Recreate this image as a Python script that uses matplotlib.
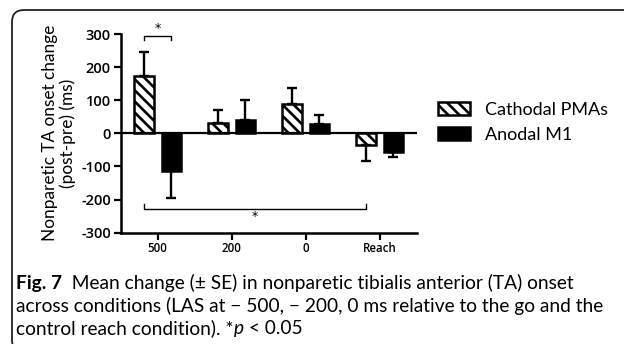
import matplotlib
matplotlib.use("Agg")
import matplotlib.pyplot as plt
import numpy as np
from matplotlib.patches import FancyBboxPatch, Patch
from matplotlib.transforms import IdentityTransform

# ---- data ----
conditions = ["500", "200", "0", "Reach"]
cathodal_mean = [173, 32, 88, -36]
cathodal_se = [73, 38, 48, 48]
anodal_mean = [-113, 40, 28, -55]
anodal_se = [82, 60, 27, 16]
series_names = ["Cathodal PMAs", "Anodal M1"]
yticks = [-300, -200, -100, 0, 100, 200, 300]

plt.rcParams["hatch.linewidth"] = 1.9
W, H = 624, 344
fig = plt.figure(figsize=(W / 100, H / 100), dpi=100)
ax = fig.add_axes([120.7 / W, 1 - 232.7 / H, 296 / W, 198.7 / H])

x = np.arange(len(conditions))
off, bw = 0.185, 0.26
ax.bar(x - off, cathodal_mean, bw, color="white", edgecolor="black",
       linewidth=1.8, hatch="\\\\\\", label=series_names[0], zorder=2)
ax.bar(x + off, anodal_mean, bw, color="black", edgecolor="black",
       linewidth=1.8, label=series_names[1], zorder=2)

def one_sided(means, ses):
    lo = [s if m < 0 else 0 for m, s in zip(means, ses)]
    hi = [s if m >= 0 else 0 for m, s in zip(means, ses)]
    return [lo, hi]

ax.errorbar(x - off, cathodal_mean, yerr=one_sided(cathodal_mean, cathodal_se),
            fmt="none", ecolor="black", elinewidth=1.7, capsize=3.8, capthick=1.7, zorder=3)
ax.errorbar(x + off, anodal_mean, yerr=one_sided(anodal_mean, anodal_se),
            fmt="none", ecolor="black", elinewidth=1.7, capsize=3.8, capthick=1.7, zorder=3)

ax.axhline(0, color="black", linewidth=1.6, zorder=4)

ax.set_xlim(-0.5, 3.5)
ax.set_ylim(-300, 300)
ax.set_yticks(yticks)
ax.set_yticklabels([str(t) for t in yticks])
ax.set_xticks(x)
ax.set_xticklabels(conditions)
for s in ["top", "right"]:
    ax.spines[s].set_visible(False)
for s in ["left", "bottom"]:
    ax.spines[s].set_linewidth(1.8)
ax.tick_params(axis="both", width=1.6, length=5, direction="out", pad=2)
for lab in ax.get_yticklabels():
    lab.set_fontsize(10.5)
    lab.set_fontfamily("Open Sans")
    lab.set_fontweight("semibold")
for lab in ax.get_xticklabels():
    lab.set_fontsize(8.3)
    lab.set_fontfamily("Open Sans")
    lab.set_fontweight("semibold")

ax.set_ylabel("Nonparetic TA onset change\n(post-pre) (ms)", fontsize=12.4,
              family="Lato", linespacing=1.05, labelpad=4)

# significance brackets
ax.plot([x[0] - off, x[0] - off, x[0] + off, x[0] + off], [282, 295, 295, 282],
        color="black", lw=1.0, clip_on=False)
ax.text(x[0], 298, "*", ha="center", va="bottom", fontsize=9, clip_on=False)
ax.plot([x[0] - off, x[0] - off, x[3] - off, x[3] - off], [-213, -227, -227, -213],
        color="black", lw=1.0)
ax.text((x[0] - off + x[3] - off) / 2, -232, "*", ha="center", va="top", fontsize=9)

# legend
handles = [Patch(facecolor="white", edgecolor="black", hatch="\\\\\\", linewidth=1.8),
           Patch(facecolor="black", edgecolor="black", linewidth=1.8)]
fig.legend(handles, series_names, loc="upper left",
           bbox_to_anchor=(438 / W, 1 - 102 / H), frameon=False,
           prop={"family": "Lato", "size": 13}, handlelength=1.8,
           handleheight=0.75, handletextpad=0.8, labelspacing=0.5,
           borderpad=0, borderaxespad=0)

# caption (drawn as consecutive text pieces)
renderer = fig.canvas.get_renderer()

def write_line(pieces, x0, y0):
    xc = x0
    for txt, kw in pieces:
        t = fig.text(xc, y0, txt, transform=IdentityTransform(), va="baseline",
                     ha="left", fontsize=13.8, family="Lato", **kw)
        bb = t.get_window_extent(renderer)
        xc = bb.x1

cap_x = 16
write_line([("Fig. 7", {"fontweight": "bold"}),
            ("  Mean change (± SE) in nonparetic tibialis anterior (TA) onset", {})],
           cap_x, H - 289)
write_line([("across conditions (LAS at \u2212 500, \u2212 200, 0 ms relative to the go and the", {})],
           cap_x, H - 312)
write_line([("control reach condition). *", {}), ("p", {"style": "italic"}),
            (" < 0.05", {})], cap_x, H - 334)

# rounded border
border = FancyBboxPatch((12, -8), 720, 344 - 10 + 8,
                        boxstyle="round,pad=0,rounding_size=12",
                        transform=IdentityTransform(), facecolor="none",
                        edgecolor="#222222", linewidth=1.3)
fig.patches.append(border)

fig.savefig("out.png", dpi=100)
